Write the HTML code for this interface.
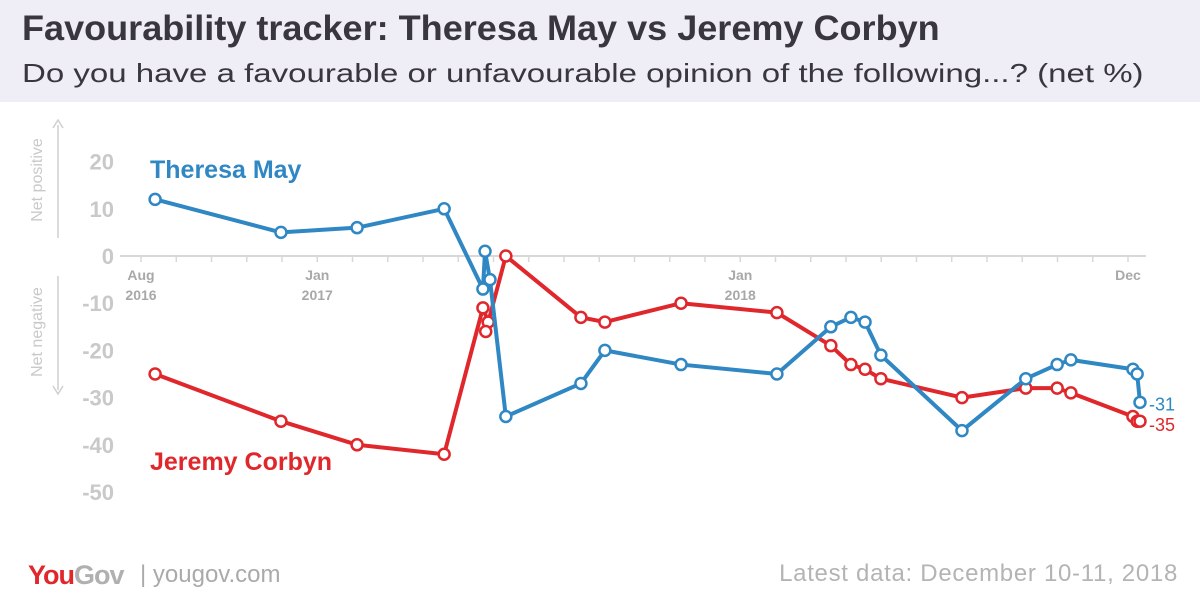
<!DOCTYPE html>
<html><head><meta charset="utf-8"><style>
body{margin:0;width:1200px;height:600px;background:#fff;font-family:"Liberation Sans",sans-serif;overflow:hidden;position:relative}
#hdr{position:absolute;left:0;top:0;width:1200px;height:102px;background:#efedf5}
#title{position:absolute;left:22px;top:9px;font-size:35px;font-weight:bold;color:#3a3640;transform-origin:0 0;transform:scaleX(1.03)}
#sub{position:absolute;left:22px;top:58px;font-size:26px;color:#3a3640;transform-origin:0 0;transform:scaleX(1.27)}
#foot-r{position:absolute;right:22px;top:560px;font-size:24px;color:#b4b4b4;letter-spacing:0.7px}
#logo{position:absolute;left:28px;top:560px;font-size:27px;font-weight:bold;letter-spacing:-1px}
#site{position:absolute;left:140px;top:561px;font-size:24px;color:#aaa}
</style></head><body>
<div id="hdr"></div>
<div id="title">Favourability tracker: Theresa May vs Jeremy Corbyn</div>
<div id="sub">Do you have a favourable or unfavourable opinion of the following...? (net %)</div>
<svg id="chart" width="1200" height="600" style="position:absolute;left:0;top:0"></svg>
<div id="logo"><span style="color:#e0282c">You</span><span style="color:#b0b0b0">Gov</span></div>
<div id="site"><span style="color:#aaa;font-weight:normal">|</span> yougov.com</div>
<div id="foot-r">Latest data: December 10-11, 2018</div>
<script>
const mayMonths=[0.4,3.97,6.13,8.6,9.7,9.76,9.9,10.35,12.48,13.16,15.32,18.04,19.57,20.14,20.54,20.99,23.29,25.1,25.99,26.38,28.14,28.26,28.34];
const mayValues=[12,5,6,10,-7,1,-5,-34,-27,-20,-23,-25,-15,-13,-14,-21,-37,-26,-23,-22,-24,-25,-31];
const corbynMonths=[0.4,3.97,6.13,8.6,9.7,9.85,9.78,10.35,12.48,13.16,15.32,18.04,19.57,20.14,20.54,20.99,23.29,25.1,25.99,26.38,28.14,28.26,28.34];
const corbynValues=[-25,-35,-40,-42,-11,-14,-16,0,-13,-14,-10,-12,-19,-23,-24,-26,-30,-28,-28,-29,-34,-35,-35];
const yTicks=[20,10,0,-10,-20,-30,-40,-50];
const xTickMonths=[0,5,17,28];
const xTickLabels=[["Aug","2016"],["Jan","2017"],["Jan","2018"],["Dec",""]];
const svg=document.getElementById('chart');const NS='http://www.w3.org/2000/svg';
const X=m=>141+m*35.25, Y=v=>256-v*4.72;
function el(t,a,p){const e=document.createElementNS(NS,t);for(const k in a)e.setAttribute(k,a[k]);(p||svg).appendChild(e);return e;}
let ax=el('line',{x1:120,x2:1146,y1:256,y2:256,stroke:'#d8d8d8','stroke-width':2});


for(let m=0;m<=28;m++){let t=el('line',{x1:X(m),x2:X(m),y1:256,y2:262,stroke:'#d8d8d8','stroke-width':1.5});

}
yTicks.forEach(v=>{let t=el('text',{x:114,y:Y(v)+8,'text-anchor':'end','font-size':22,'font-weight':'bold',fill:'#c9c9c9'});t.textContent=v;

});
xTickMonths.forEach((m,i)=>{let t=el('text',{x:X(m),y:280,'text-anchor':'middle','font-size':14,'font-weight':'bold',fill:'#a8a8a8'});t.textContent=xTickLabels[i][0];


let t2=el('text',{x:X(m),y:300,'text-anchor':'middle','font-size':14,'font-weight':'bold',fill:'#a8a8a8'});t2.textContent=xTickLabels[i][1];

});
el('line',{x1:58,x2:58,y1:125,y2:238,stroke:'#cfcfcf','stroke-width':1.5});
el('path',{d:'M53,128 L58,120 L63,128',fill:'none',stroke:'#cfcfcf','stroke-width':1.5});
el('line',{x1:58,x2:58,y1:276,y2:390,stroke:'#cfcfcf','stroke-width':1.5});
el('path',{d:'M53,386 L58,394 L63,386',fill:'none',stroke:'#cfcfcf','stroke-width':1.5});
let np=el('text',{x:0,y:0,transform:'translate(42,180) rotate(-90)','text-anchor':'middle','font-size':16,fill:'#c9c9c9'});np.textContent='Net positive';


let nn=el('text',{x:0,y:0,transform:'translate(42,332) rotate(-90)','text-anchor':'middle','font-size':16,fill:'#c9c9c9'});nn.textContent='Net negative';


function series(ms,vs,col,name){
 let d=ms.map((m,i)=>(i?'L':'M')+X(m)+','+Y(vs[i])).join(' ');
 let p=el('path',{d:d,fill:'none',stroke:col,'stroke-width':4,'stroke-linejoin':'round'});
 
 
 ms.forEach((m,i)=>{let c=el('circle',{cx:X(m),cy:Y(vs[i]),r:5.5,fill:'#fff',stroke:col,'stroke-width':2.5});
 
 });
 let n=vs.length-1;let t=el('text',{x:X(ms[n])+9,y:Y(vs[n])+(name==='may'?8:10),'font-size':18,fill:col});t.textContent=vs[n];
 
 
}
series(corbynMonths,corbynValues,'#e0272c','corbyn');
series(mayMonths,mayValues,'#2f87c4','may');
let l1=el('text',{x:150,y:178,'font-size':25,'font-weight':'bold',fill:'#2f87c4'});l1.textContent='Theresa May';


let l2=el('text',{x:150,y:470,'font-size':25,'font-weight':'bold',fill:'#e0272c'});l2.textContent='Jeremy Corbyn';


</script>
</body></html>
